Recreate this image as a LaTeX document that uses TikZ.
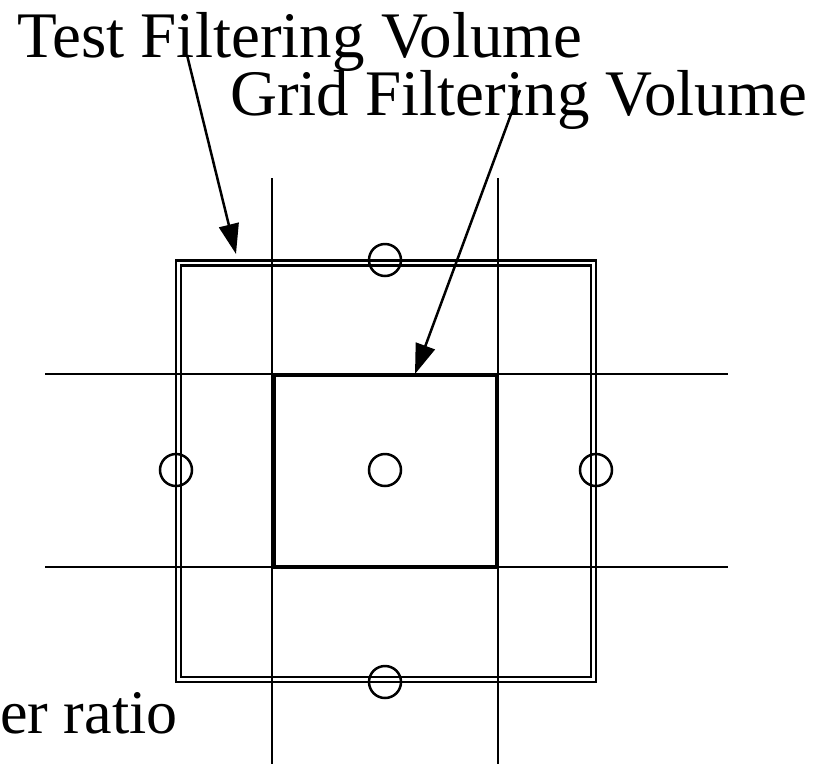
\documentclass[tikz,border=0pt]{standalone}
\usepackage{fontspec}
\setmainfont{Liberation Serif}
\usetikzlibrary{arrows.meta}
\begin{document}
\begin{tikzpicture}[x=1pt,y=-1pt,
  gridline/.style={line width=2.5pt},
  boxline/.style={line width=2.3pt},
  thickbox/.style={line width=4.5pt},
  dot/.style={circle,draw,line width=2.5pt,minimum size=32pt,inner sep=0pt},
  pointer/.style={line width=2.5pt,-{Triangle[length=30pt,width=20pt]}},
  lbl/.style={font=\fontsize{65}{72}\selectfont,inner sep=0pt,anchor=base west}]
\useasboundingbox (0,0) rectangle (825,764);
% grid lines
\draw[gridline] (272,178) -- (272,764);
\draw[gridline] (498,178) -- (498,764);
\draw[gridline] (45,374) -- (728,374);
\draw[gridline] (45,567) -- (728,567);
% test filtering volume (double rectangle)
\draw[boxline] (176,260.5) rectangle (596,682);
\draw[boxline] (181,265.5) rectangle (591,677);
% grid filtering volume
\draw[thickbox] (274,375) rectangle (497,567);
% circles
\node[dot] (ctop) at (385,260) {};
\node[dot] (cmid) at (385,470) {};
\node[dot] (cleft) at (176,470) {};
\node[dot] (cright) at (596,470) {};
\node[dot] (cbot) at (385,682) {};
% labels
\node[lbl] (test) at (17,57) {Test Filtering Volume};
\node[lbl] (grid) at (230,115) {Grid Filtering Volume};
\node[lbl,font=\fontsize{62}{70}\selectfont] (ratio) at (0,733) {er ratio};
% arrows
\coordinate (ta) at (187,55);
\coordinate (tb) at (236,254);
\coordinate (ga) at (520,90);
\coordinate (gb) at (415,374);
\draw[pointer] (ta) -- (tb);
\draw[pointer] (ga) -- (gb);
\end{tikzpicture}
\end{document}
